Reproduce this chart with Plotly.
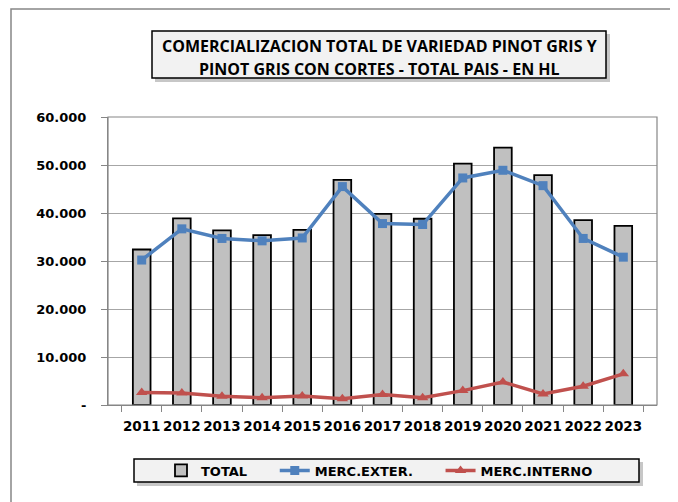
import plotly.graph_objects as go

years = ["2011", "2012", "2013", "2014", "2015", "2016", "2017", "2018", "2019", "2020", "2021", "2022", "2023"]
total = [32400, 38900, 36400, 35400, 36500, 46900, 39800, 38800, 50300, 53600, 47900, 38500, 37300]
merc_exter = [30200, 36700, 34700, 34200, 34800, 45500, 37800, 37600, 47300, 48900, 45700, 34700, 30800]
merc_interno = [2600, 2500, 1800, 1500, 1900, 1300, 2200, 1500, 3000, 4800, 2300, 3900, 6500]

y_tickvals = [0, 10000, 20000, 30000, 40000, 50000, 60000]
y_ticktext = ["-", "10.000", "20.000", "30.000", "40.000", "50.000", "60.000"]

title_lines = ["COMERCIALIZACION TOTAL DE VARIEDAD PINOT GRIS Y",
               "PINOT GRIS CON CORTES - TOTAL PAIS - EN HL"]
series_names = ["TOTAL", "MERC.EXTER.", "MERC.INTERNO"]

AX_FONT = "DejaVu Sans"
TITLE_FONT = "Open Sans"
OFF = 8  # default page body margin
W, H = 678 - OFF, 502 - OFF
L, R, T, B = 100, 21, 109, 97
PW, PH = W - L - R, H - T - B

def px(x):
    # x in window pixels -> paper fraction
    return (x - OFF - L) / PW

def py(y):
    return (H - B - (y - OFF)) / PH

PAD = "\u00a0" * 5

fig = go.Figure()
fig.add_trace(go.Bar(
    x=years, y=total, name=series_names[0] + PAD,
    marker=dict(color="#c0c0c0", line=dict(color="#000000", width=1.8)),
))
fig.add_trace(go.Scatter(
    x=years, y=merc_exter, name=series_names[1] + PAD, mode="lines+markers",
    line=dict(color="#4f81bd", width=3.5),
    marker=dict(symbol="square", size=9, color="#4f81bd"),
))
fig.add_trace(go.Scatter(
    x=years, y=merc_interno, name=series_names[2], mode="lines+markers",
    line=dict(color="#c0504d", width=3.5),
    marker=dict(symbol="triangle-up", size=10, color="#c0504d"),
))

shapes = [
    # plot area frame
    dict(type="rect", xref="paper", yref="paper", x0=0, x1=1, y0=0, y1=1,
         line=dict(color="#868686", width=1.2), fillcolor="rgba(0,0,0,0)", layer="above"),
    # outer chart frame
    dict(type="rect", xref="paper", yref="paper", x0=px(11), x1=px(720), y0=py(9), y1=py(540),
         line=dict(color="#868686", width=1.5), fillcolor="rgba(0,0,0,0)"),
    # title box shadow + box
    dict(type="rect", xref="paper", yref="paper", x0=px(155), x1=px(610), y0=py(34), y1=py(82),
         line=dict(width=0), fillcolor="rgba(0,0,0,0.22)"),
    dict(type="rect", xref="paper", yref="paper", x0=px(152), x1=px(606), y0=py(31), y1=py(78),
         line=dict(color="#000000", width=1.5), fillcolor="#f2f2f2"),
    # legend box shadow + box
    dict(type="rect", xref="paper", yref="paper", x0=px(137), x1=px(643), y0=py(462), y1=py(486),
         line=dict(width=0), fillcolor="rgba(0,0,0,0.22)"),
    dict(type="rect", xref="paper", yref="paper", x0=px(134), x1=px(639), y0=py(459), y1=py(482),
         line=dict(color="#000000", width=1.5), fillcolor="#f2f2f2"),
]

annotations = [
    dict(text="<b>" + title_lines[0] + "</b>", xref="paper", yref="paper", x=px(379.5), y=py(45.5),
         xanchor="center", yanchor="middle", showarrow=False,
         font=dict(family=TITLE_FONT, size=16, color="#000000")),
    dict(text="<b>" + title_lines[1] + "</b>", xref="paper", yref="paper", x=px(379.5), y=py(68.5),
         xanchor="center", yanchor="middle", showarrow=False,
         font=dict(family=TITLE_FONT, size=16, color="#000000")),
]

fig.update_layout(
    width=W, height=H,
    margin=dict(l=L, r=R, t=T, b=B, pad=0, autoexpand=False),
    paper_bgcolor="white", plot_bgcolor="white",
    bargap=0.56,
    font=dict(family=AX_FONT, color="#000000"),
    showlegend=True,
    legend=dict(
        orientation="h", x=px(161), y=py(470.5), xanchor="left", yanchor="middle",
        bgcolor="rgba(0,0,0,0)", borderwidth=0,
        font=dict(family=AX_FONT, size=13, color="#000000", weight="bold"),
        traceorder="normal",
    ),
    xaxis=dict(
        type="category", showgrid=False, showline=True, linecolor="#868686", linewidth=1,
        ticks="outside", tickson="boundaries", ticklen=6, tickcolor="#868686",
        tickangle=0, automargin=False, ticklabelstandoff=9,
        tickfont=dict(family=AX_FONT, size=13.5, color="#000000", weight="bold"),
        fixedrange=True,
    ),
    yaxis=dict(
        range=[0, 60000], tickvals=y_tickvals, ticktext=y_ticktext,
        showgrid=True, gridcolor="#a6a6a6", gridwidth=1,
        showline=True, linecolor="#868686", linewidth=1,
        ticks="outside", ticklen=6, tickcolor="#868686", automargin=False,
        tickfont=dict(family=AX_FONT, size=13, color="#000000", weight="bold"),
        zeroline=False, ticklabelstandoff=12,
    ),
    shapes=shapes,
    annotations=annotations,
)

fig.write_html("out.html")
